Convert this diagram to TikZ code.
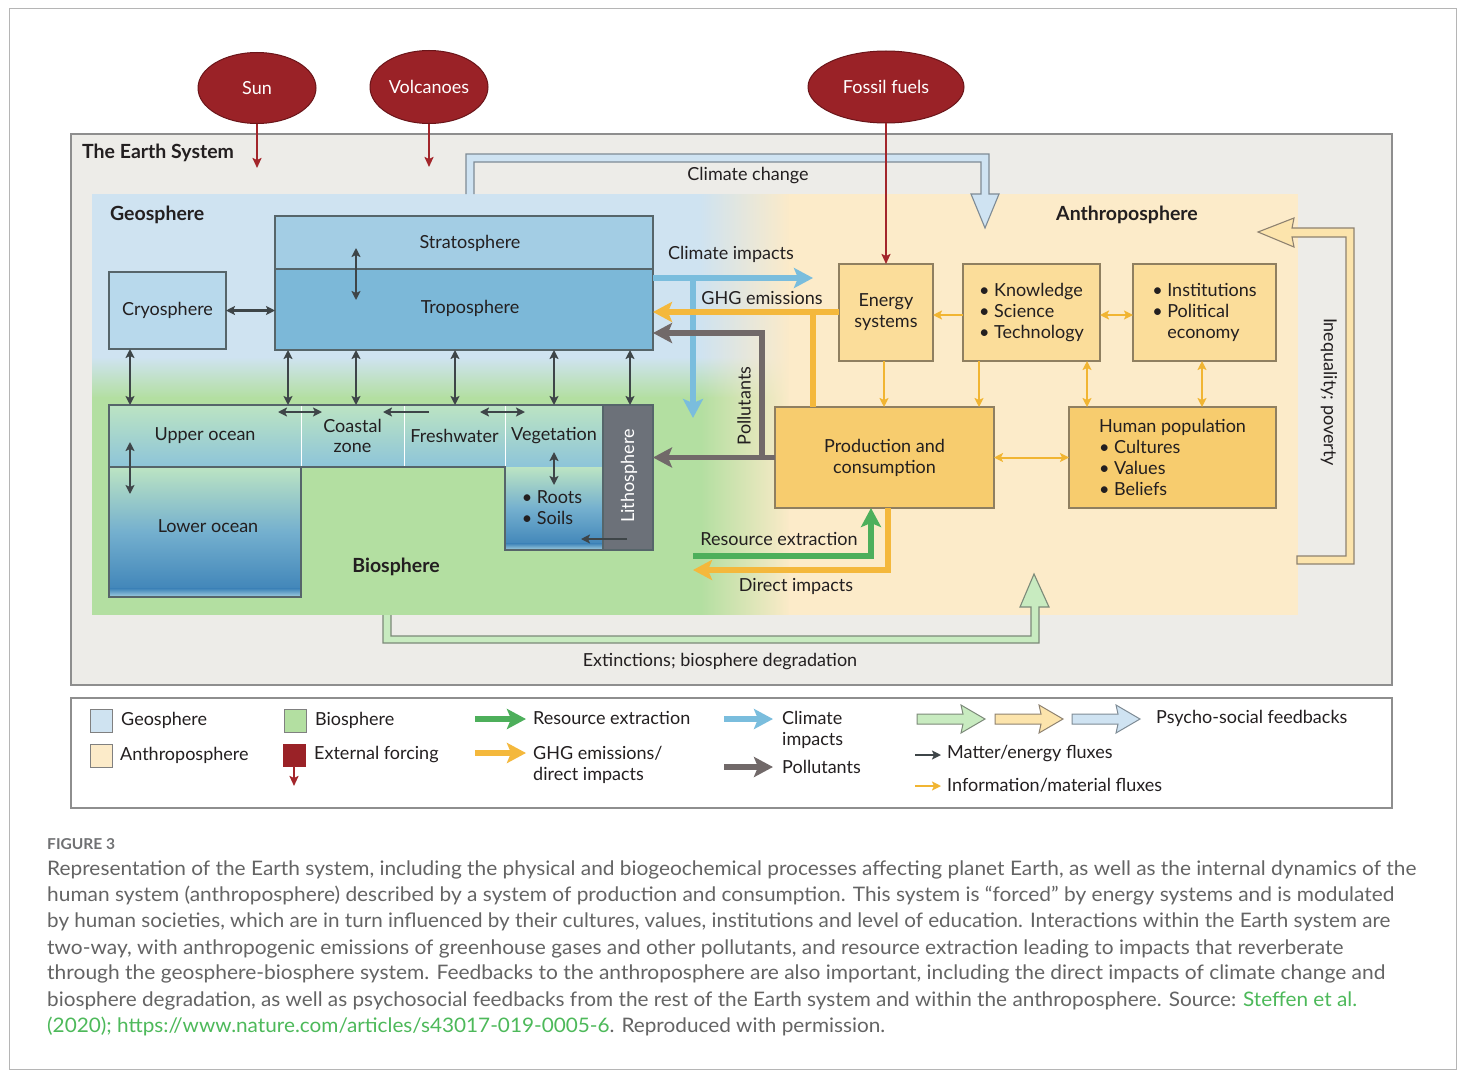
\documentclass[tikz,border=0pt]{standalone}
\usepackage{fontspec}
\usepackage{graphicx}
\setmainfont{Lato}
\usetikzlibrary{arrows.meta,shapes.geometric,fadings}
\definecolor{framegray}{HTML}{B5B5B5}
\definecolor{esbg}{HTML}{EDECE8}
\definecolor{esborder}{HTML}{8E8E8E}
\definecolor{geo}{HTML}{CFE3F1}
\definecolor{bio}{HTML}{B3DFA1}
\definecolor{anth}{HTML}{FCEBC9}
\definecolor{strat}{HTML}{A3CDE4}
\definecolor{trop}{HTML}{7CB8D8}
\definecolor{cryo}{HTML}{B8D9EC}
\definecolor{boxline}{HTML}{56656A}
\definecolor{oceantop}{HTML}{BCE4C3}
\definecolor{oceanmid}{HTML}{8DC4D9}
\definecolor{deepblue}{HTML}{3A80B6}
\definecolor{litho}{HTML}{6C7179}
\definecolor{ylight}{HTML}{FBDD9A}
\definecolor{ydark}{HTML}{F7CC6E}
\definecolor{yline}{HTML}{8F7F60}
\definecolor{forcing}{HTML}{9A2227}
\definecolor{forcingline}{HTML}{6A1519}
\definecolor{arrowred}{HTML}{A3262B}
\definecolor{thickblue}{HTML}{7ABDDD}
\definecolor{thickorange}{HTML}{F4B83C}
\definecolor{thickgray}{HTML}{716969}
\definecolor{thickgreen}{HTML}{4DAF5B}
\definecolor{thinorange}{HTML}{F1B532}
\definecolor{thindark}{HTML}{3E4548}
\definecolor{txt}{HTML}{231F20}
\definecolor{captxt}{HTML}{646464}
\definecolor{capgreen}{HTML}{4DB95A}
\definecolor{figlabel}{HTML}{707173}
\definecolor{ccfill}{HTML}{CFE3F2}
\definecolor{ccline}{HTML}{7E8B95}
\definecolor{iqfill}{HTML}{FCE4AC}
\definecolor{iqline}{HTML}{8E8270}
\definecolor{exfill}{HTML}{C8EBC0}
\definecolor{exline}{HTML}{7C8A79}
\newsavebox\capsave
\newcommand\fitline[2]{\sbox\capsave{#2}\pgfmathsetmacro\capratio{#1/\the\wd\capsave}\scalebox{\capratio}[1]{\usebox\capsave}}
\tikzset{
 lbl/.style={font=\fontsize{18}{21}\selectfont, text=txt, align=center, inner sep=0pt},
 bold/.style={font=\bfseries\fontsize{19.5}{22}\selectfont, text=txt, inner sep=0pt},
 geobox/.style={draw=boxline, line width=1.1pt, anchor=north west, inner sep=0pt, outer sep=0pt, font=\fontsize{18}{21}\selectfont, text=txt, align=center},
 oceanbox/.style={anchor=north west, inner sep=0pt, outer sep=0pt, font=\fontsize{18}{20}\selectfont, text=txt, align=center},
 anbox/.style={draw=yline, line width=1.1pt, anchor=north west, inner sep=0pt, outer sep=0pt, font=\fontsize{18}{21}\selectfont, text=txt, align=left},
 forcenode/.style={ellipse, fill=forcing, draw=forcingline, line width=1pt, text=white, font=\fontsize{18}{21}\selectfont, inner sep=0pt, outer sep=0pt},
 dbl/.style={thindark, line width=2.2pt, {Stealth[length=9pt,width=9pt,inset=2pt]}-{Stealth[length=9pt,width=9pt,inset=2pt]}},
 sgl/.style={thindark, line width=2.2pt, -{Stealth[length=9pt,width=9pt,inset=2pt]}},
 odbl/.style={thinorange, line width=2pt, {Stealth[length=9pt,width=9pt,inset=2pt]}-{Stealth[length=9pt,width=9pt,inset=2pt]}},
 osgl/.style={thinorange, line width=2pt, -{Stealth[length=9pt,width=9pt,inset=2pt]}},
 fatarrow/.style={line width=5.5pt, -{Stealth[length=19pt,width=20pt,inset=4pt]}},
 fatline/.style={line width=5.5pt},
 redarrow/.style={arrowred, line width=2pt, -{Stealth[length=10pt,width=9pt,inset=2pt]}},
 capline/.style={anchor=base west, font=\fontsize{20}{24}\selectfont, text=captxt, inner sep=0pt},
}
\begin{document}
\begin{tikzpicture}[x=1pt,y=-1pt]
\useasboundingbox (0,0) rectangle (1469,1081);
\fill[white] (0,0) rectangle (1469,1081);
\draw[framegray, line width=1pt] (9,9) rectangle (1456,1069);
% Earth system frame
\draw[esborder, fill=esbg, line width=1.2pt] (71,134) rectangle (1392,685);
% spheres background
\fill[geo] (92,194) rectangle (790,358);
\shade[top color=geo, bottom color=bio] (92,357) rectangle (790,398);
\fill[bio] (92,397) rectangle (790,615);
\fill[anth, path fading=west] (700,194) rectangle (790,615);
\fill[anth] (789,194) rectangle (1298,615);
% hollow feedback arrows
\filldraw[fill=ccfill, draw=ccline, line width=1.1pt] (466,194) -- (466,154) -- (989,154) -- (989,194) -- (999,194) -- (985,228) -- (971,194) -- (981,194) -- (981,162) -- (474,162) -- (474,194);
\filldraw[fill=iqfill, draw=iqline, line width=1.1pt] (1297,556) -- (1346,556) -- (1346,237) -- (1292,237) -- (1294,247) -- (1258,232) -- (1294,218) -- (1292,228) -- (1354,228) -- (1354,564) -- (1297,564) -- cycle;
\filldraw[fill=exfill, draw=exline, line width=1.1pt] (383,615) -- (383,643) -- (1039,643) -- (1039,607) -- (1049,607) -- (1034,574) -- (1020,607) -- (1031,607) -- (1031,636) -- (391,636) -- (391,615);
% titles
\node[bold, anchor=west] at (82,153) {The Earth System};
\node[bold, anchor=west] at (110,215) {Geosphere};
\node[bold] at (396,567) {Biosphere};
\node[bold] at (1127,215) {Anthroposphere};
% external forcing
\node[forcenode, minimum width=118, minimum height=71] (sun) at (257,88) {Sun};
\node[forcenode, minimum width=118, minimum height=73] (volc) at (429,87) {Volcanoes};
\node[forcenode, minimum width=156, minimum height=72] (fossil) at (886,87) {Fossil fuels};
\coordinate (sunend) at (257,168);
\coordinate (volcend) at (429,167);
\draw[redarrow] (sun.south) -- (sunend);
\draw[redarrow] (volc.south) -- (volcend);
% geosphere boxes
\node[geobox, fill=strat, minimum width=378, minimum height=53] (strat) at (275,216) {};
\node[geobox, fill=trop, minimum width=378, minimum height=81] (trop) at (275,269) {};
\node[lbl] at (470,243) {Stratosphere};
\node[lbl] at (470,308) {Troposphere};
\node[geobox, fill=cryo, minimum width=117, minimum height=77] (cryo) at (109,272) {Cryosphere};
% ocean / biosphere row
\node[oceanbox, top color=oceantop, bottom color=oceanmid, minimum width=192, minimum height=62] (upper) at (109,405) {Upper ocean};
\node[oceanbox, top color=oceantop, bottom color=oceanmid, minimum width=103, minimum height=62] (coast) at (301,405) {Coastal\\zone};
\node[oceanbox, top color=oceantop, bottom color=oceanmid, minimum width=101, minimum height=62] (fresh) at (404,405) {Freshwater};
\node[oceanbox, top color=oceantop, bottom color=oceanmid, minimum width=98, minimum height=62] (veg) at (505,405) {Vegetation};
\node[oceanbox, top color=oceantop, bottom color=deepblue, middle color=oceanmid!70!deepblue, minimum width=192, minimum height=130] (lower) at (109,467) {};
\shade[top color=deepblue, bottom color=oceanmid!80!white] (109,588) rectangle (301,597);
\node[lbl] at (208,526) {Lower ocean};
\node[oceanbox, top color=oceantop, bottom color=deepblue, middle color=oceanmid!70!deepblue, minimum width=98, minimum height=83, align=left] (roots) at (505,467) {};
\shade[top color=deepblue, bottom color=oceanmid!80!white] (505,543) rectangle (603,550);
\node[lbl, align=left] at (552,508) {• Roots\\• Soils};
\draw[boxline, line width=1.1pt] (109,405) -- (603,405) -- (603,550) -- (505,550) -- (505,467) -- (301,467) -- (301,597) -- (109,597) -- cycle;
\draw[boxline, line width=1.1pt] (109,467) -- (301,467);
\draw[white, line width=1pt] (301,406) -- (301,466) (404,406) -- (404,466) (505,406) -- (505,466);
\node[draw=boxline, fill=litho, line width=1.1pt, anchor=north west, inner sep=0pt, outer sep=0pt, minimum width=50, minimum height=145] (litho) at (603,405) {};
\node[lbl, rotate=90, text=white] at (629,476) {Lithosphere};
% geosphere arrows
\coordinate (stratpt) at (356,248);
\coordinate (troppt) at (356,300);
\draw[dbl] (stratpt) -- (troppt);
\draw[dbl] (cryo.east) -- (trop.west |- cryo.east);
\draw[dbl] (cryo.south -| 130,0) -- (upper.north -| 130,0);
\draw[dbl] (trop.south -| 288,0) -- (upper.north -| 288,0);
\draw[dbl] (trop.south -| 356,0) -- (coast.north -| 356,0);
\draw[dbl] (trop.south -| 455,0) -- (fresh.north -| 455,0);
\draw[dbl] (trop.south -| 554,0) -- (veg.north -| 554,0);
\draw[dbl] (trop.south -| 630,0) -- (litho.north -| 630,0);
\draw[dbl] (278,412) -- (322,412);
\draw[sgl] (429,412) -- (383,412);
\draw[dbl] (480,412) -- (525,412);
\draw[dbl] (130,442) -- (130,494);
\draw[dbl] (554,452) -- (554,485);
\draw[sgl] (627,539) -- (581,539);
% anthroposphere boxes
\node[anbox, fill=ylight, minimum width=94, minimum height=97, align=center] (energy) at (839,264) {Energy\\systems};
\node[anbox, fill=ylight, minimum width=137, minimum height=97] (know) at (963,264) {• Knowledge\\• Science\\• Technology};
\node[anbox, fill=ylight, minimum width=143, minimum height=97] (inst) at (1133,264) {• Institutions\\• Political\\\phantom{• }economy};
\node[anbox, fill=ydark, minimum width=219, minimum height=101, align=center] (prod) at (775,407) {Production and\\consumption};
\node[anbox, fill=ydark, minimum width=207, minimum height=101] (human) at (1069,407) {Human population\\• Cultures\\• Values\\• Beliefs};
\draw[redarrow] (fossil.south) -- (energy.north);
% thin orange arrows
\draw[osgl] (know.west |- 0,315) -- (energy.east |- 0,315);
\draw[odbl] (know.east |- 0,315) -- (inst.west |- 0,315);
\draw[osgl] (energy.south -| 884,0) -- (prod.north -| 884,0);
\draw[osgl] (know.south -| 979,0) -- (prod.north -| 979,0);
\draw[odbl] (know.south -| 1087,0) -- (human.north -| 1087,0);
\draw[odbl] (inst.south -| 1202,0) -- (human.north -| 1202,0);
\draw[odbl] (prod.east) -- (human.west);
% thick arrows
\coordinate (cihead) at (813,278);
\coordinate (cibranch) at (693,278);
\coordinate (cidown) at (693,418);
\draw[fatarrow, thickblue] (trop.east |- cihead) -- (cihead);
\draw[fatarrow, thickblue] (cibranch) -- (cidown);
\coordinate (ghgj) at (813,312);
\draw[fatline, thickorange] (prod.north -| ghgj) -- (ghgj);
\draw[fatarrow, thickorange] (energy.west |- ghgj) -- (trop.east |- ghgj);
\coordinate (pollj) at (762,458);
\coordinate (pollt) at (762,333);
\draw[fatarrow, thickgray] (prod.west) -- (litho.east |- prod.west);
\draw[fatarrow, thickgray] (pollj) -- (pollt) -- (trop.east |- pollt);
\coordinate (rest) at (693,556);
\coordinate (resc) at (871,556);
\draw[fatarrow, thickgreen] (rest) -- (resc) -- (prod.south -| resc);
\coordinate (dic) at (888,570);
\coordinate (dit) at (693,570);
\draw[fatarrow, thickorange] (prod.south -| dic) -- (dic) -- (dit);
% arrow labels
\node[lbl] at (748,176) {Climate change};
\node[lbl] at (731,254) {Climate impacts};
\node[lbl] at (762,298) {GHG emissions};
\node[lbl, rotate=90] at (744,406) {Pollutants};
\node[lbl] at (779,539) {Resource extraction};
\node[lbl] at (796,586) {Direct impacts};
\node[lbl] at (720,662) {Extinctions; biosphere degradation};
\node[lbl, rotate=-90] at (1329,392) {Inequality; poverty};
% legend
\draw[esborder, line width=1.2pt] (71,698) rectangle (1392,808);
\draw[fill=geo, draw=gray, line width=1pt] (90,709) rectangle (112,732);
\draw[fill=anth, draw=gray, line width=1pt] (90,744) rectangle (112,767);
\draw[fill=bio, draw=gray, line width=1pt] (284,709) rectangle (306,732);
\fill[forcing] (283,744) rectangle (306,767);
\coordinate (legfa) at (294,766);
\coordinate (legfb) at (294,786);
\draw[redarrow] (legfa) -- (legfb);
\node[lbl, anchor=west] at (121,720) {Geosphere};
\node[lbl, anchor=west] at (120,755) {Anthroposphere};
\node[lbl, anchor=west] at (315,720) {Biosphere};
\node[lbl, anchor=west] at (314,755) {External forcing};
\coordinate (lga) at (475,719); \coordinate (lgb) at (526,719);
\coordinate (loa) at (475,753); \coordinate (lob) at (526,753);
\coordinate (lba) at (724,719); \coordinate (lbb) at (773,719);
\coordinate (lpa) at (724,767); \coordinate (lpb) at (773,767);
\draw[fatarrow, thickgreen] (lga) -- (lgb);
\draw[fatarrow, thickorange] (loa) -- (lob);
\draw[fatarrow, thickblue] (lba) -- (lbb);
\draw[fatarrow, thickgray] (lpa) -- (lpb);
\node[lbl, anchor=west] at (533,718) {Resource extraction};
\node[lbl, anchor=west, align=left] at (533,765) {GHG emissions/\\direct impacts};
\node[lbl, anchor=west, align=left] at (782,730) {Climate\\impacts};
\node[lbl, anchor=west] at (782,767) {Pollutants};
\foreach \xx/\fc/\lc in {917/exfill/exline, 995/iqfill/iqline, 1072/ccfill/ccline}
  \filldraw[fill=\fc, draw=\lc, line width=1pt] (\xx,714) -- ++(46,0) -- ++(-2,-9) -- ++(24,14) -- ++(-24,14) -- ++(2,-9) -- ++(-46,0) -- cycle;
\node[lbl, anchor=west] at (1156,718) {Psycho-social feedbacks};
\coordinate (lma) at (915,755); \coordinate (lmb) at (941,755);
\coordinate (lia) at (915,786); \coordinate (lib) at (941,786);
\draw[sgl, line width=1.8pt] (lma) -- (lmb);
\draw[osgl] (lia) -- (lib);
\node[lbl, anchor=west] at (947,754) {Matter/energy fluxes};
\node[lbl, anchor=west] at (947,785) {Information/material fluxes};
% caption
\node[anchor=base west, font=\fontsize{15}{18}\selectfont, text=figlabel, inner sep=0pt] at (47,849) {\fitline{68}{\bfseries FIGURE 3}};
\node[capline] at (47,875) {\fitline{1369}{Representation of the Earth system, including the physical and biogeochemical processes affecting planet Earth, as well as the internal dynamics of the}};
\node[capline] at (47,901) {\fitline{1347}{human system (anthroposphere) described by a system of production and consumption. This system is “forced” by energy systems and is modulated}};
\node[capline] at (47,927) {\fitline{1343}{by human societies, which are in turn influenced by their cultures, values, institutions and level of education. Interactions within the Earth system are}};
\node[capline] at (47,954) {\fitline{1296}{two-way, with anthropogenic emissions of greenhouse gases and other pollutants, and resource extraction leading to impacts that reverberate}};
\node[capline] at (47,979) {\fitline{1338}{through the geosphere-biosphere system. Feedbacks to the anthroposphere are also important, including the direct impacts of climate change and}};
\node[capline] at (47,1006) {\fitline{1310}{biosphere degradation, as well as psychosocial feedbacks from the rest of the Earth system and within the anthroposphere. Source: \textcolor{capgreen}{Steffen et al.}}};
\node[capline] at (47,1032) {\fitline{838}{\textcolor{capgreen}{(2020); https://www.nature.com/articles/s43017-019-0005-6}. Reproduced with permission.}};
\end{tikzpicture}
\end{document}
